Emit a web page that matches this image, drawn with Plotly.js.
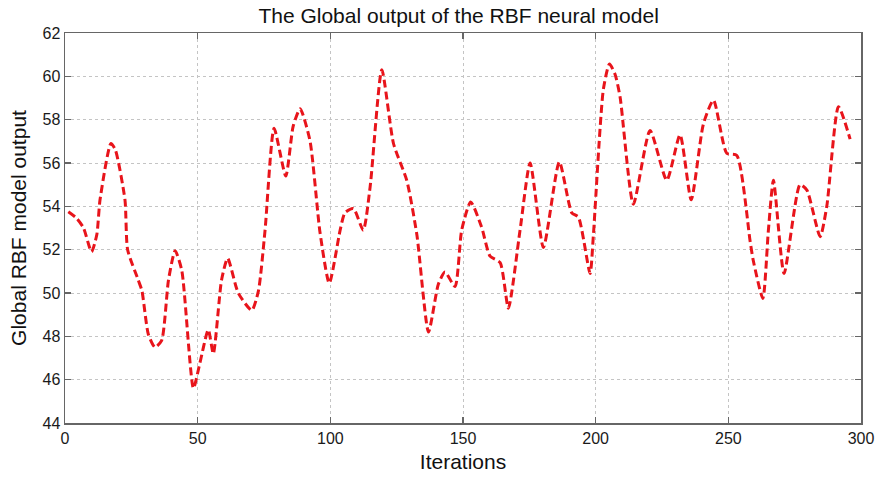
<!DOCTYPE html>
<html>
<head>
<meta charset="utf-8">
<script src="https://cdn.plot.ly/plotly-3.0.1.min.js"></script>
<style>html,body{margin:0;padding:0;background:#fff;}#chart{width:882px;height:477px;}</style>
</head>
<body>
<div id="chart"></div>
<script>
const iterations = [1.25,4.4,7,10,12,13.2,17.3,19,22.6,23.6,27.6,29,31.4,33.9,36.4,39,41.5,44,48.4,50.9,54,55.9,59,61.3,65.3,70.4,72.9,75.4,78.8,83.2,86,88.6,92.3,96.1,99.6,103.7,105.5,108.7,112.4,115,119.4,123.8,128.8,132.6,137,140.7,143.2,147,149.5,152.9,157,160.2,164,167.1,171.5,175.3,180.3,186.3,191,193.5,197.9,199.1,202.9,205.2,207.3,209.2,214.2,220.5,226.8,231.8,236,240.6,244.4,249.4,253.2,258.2,259.4,263,265.1,267,271,277,279.6,284.6,287.1,291.5,295.9];
const output = [53.75,53.45,53.0,51.9,52.7,54.3,56.9,56.6,54.3,52.0,50.6,50.1,48.1,47.5,47.8,50.6,51.95,51.05,45.6,46.8,48.3,47.2,50.6,51.6,50.0,49.2,50.1,52.9,57.6,55.4,57.7,58.5,57.05,52.8,50.45,52.9,53.7,53.9,52.9,54.9,60.3,56.9,55.2,52.7,48.2,50.4,50.97,50.3,52.9,54.2,53.05,51.7,51.4,49.3,52.9,56.0,52.1,56.05,53.7,53.5,50.9,52.6,59.4,60.57,60.1,59.05,54.1,57.5,55.2,57.3,54.3,57.8,58.9,56.45,56.35,52.4,51.5,49.75,52.9,55.2,50.9,55.0,54.75,52.6,54.0,58.6,57.1];

const fontFam = 'Liberation Sans, Arial, sans-serif';
const axisCommon = {
  showline: true, mirror: 'ticks', linecolor: '#666', linewidth: 1.5,
  ticks: 'inside', ticklen: 6, tickcolor: '#666', tickwidth: 1.5,
  showgrid: true, gridcolor: '#c4c4c4', griddash: 'dot', gridwidth: 1,
  zeroline: false,
  tickfont: {family: fontFam, size: 16, color: '#1a1a1a'}
};

const trace = {
  x: iterations, y: output, type: 'scatter', mode: 'lines',
  line: {color: '#e8141b', width: 3, dash: '8px,4px', shape: 'spline', smoothing: 0.6},
  hoverinfo: 'skip'
};

const layout = {
  width: 882, height: 477,
  margin: {l: 65, r: 21, t: 33, b: 54},
  paper_bgcolor: '#fff', plot_bgcolor: '#fff',
  showlegend: false,
  title: {text: 'The Global output of the RBF neural model', font: {family: fontFam, size: 21, color: '#111'}, x: 0.52, xanchor: 'center', y: 0.968, yanchor: 'middle'},
  xaxis: Object.assign({}, axisCommon, {range: [0, 300], tickvals: [0,50,100,150,200,250,300], title: {text: 'Iterations', font: {family: fontFam, size: 21, color: '#111'}, standoff: 8}}),
  yaxis: Object.assign({}, axisCommon, {range: [44, 62], tickvals: [44,46,48,50,52,54,56,58,60,62], title: {text: 'Global RBF model output', font: {family: fontFam, size: 21, color: '#111'}, standoff: 10}})
};

Plotly.newPlot('chart', [trace], layout, {displayModeBar: false, staticPlot: true});
</script>
</body>
</html>
